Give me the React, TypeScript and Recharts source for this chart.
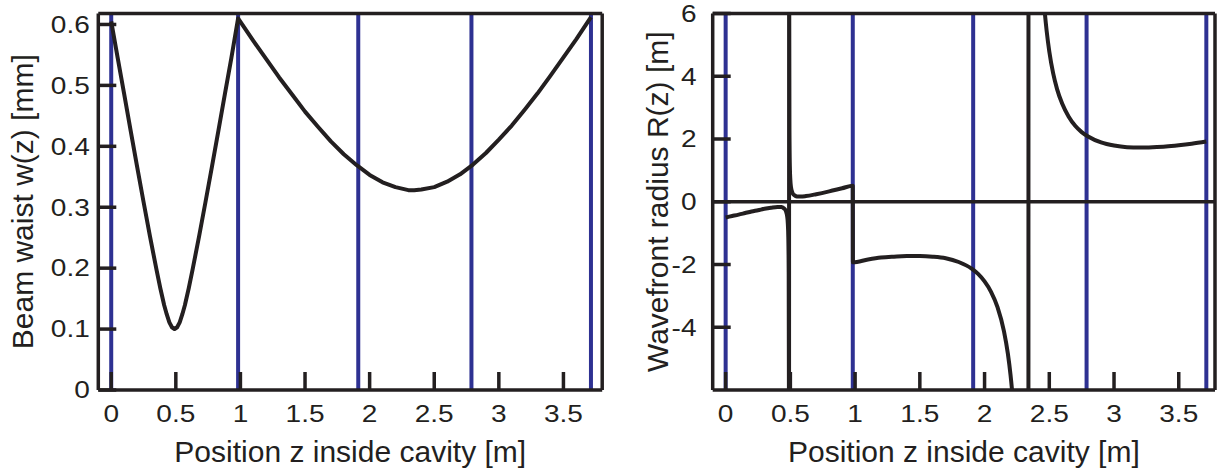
import React from 'react';
import { LineChart, Line, XAxis, YAxis, ReferenceLine, Label } from 'recharts';

const INK = '#231F20';
const BLUE = '#2E3192';
const FONT = '"Liberation Sans", Arial, Helvetica, sans-serif';

// Beam waist w(z) [mm] along the cavity
const waistZ = [
  0, 0.05, 0.1, 0.15, 0.2, 0.25, 0.3, 0.35, 0.38, 0.41, 0.43, 0.45, 0.47, 0.49,
  0.51, 0.53, 0.55, 0.57, 0.6, 0.63, 0.68, 0.73, 0.78, 0.83, 0.88, 0.93, 0.982,
  1.1, 1.2, 1.3, 1.4, 1.5, 1.6, 1.7, 1.8, 1.9, 2.0, 2.1, 2.2, 2.3, 2.345, 2.4,
  2.5, 2.6, 2.7, 2.8, 2.9, 3.0, 3.1, 3.2, 3.3, 3.4, 3.5, 3.6, 3.713,
];
const waistW = [
  0.605, 0.545, 0.486, 0.426, 0.367, 0.309, 0.252, 0.198, 0.167, 0.139, 0.124, 0.111, 0.103, 0.1,
  0.103, 0.111, 0.124, 0.139, 0.167, 0.198, 0.252, 0.309, 0.367, 0.426, 0.486, 0.545, 0.61,
  0.573, 0.543, 0.513, 0.485, 0.457, 0.432, 0.408, 0.387, 0.369, 0.353, 0.341, 0.333, 0.328, 0.328, 0.329,
  0.333, 0.342, 0.354, 0.37, 0.389, 0.411, 0.434, 0.46, 0.487, 0.516, 0.546, 0.576, 0.612,
];

// Wavefront radius R(z) [m] along the cavity
const radiusZ = [
  0, 0.05, 0.1, 0.15, 0.2, 0.25, 0.3, 0.35, 0.4, 0.43, 0.45, 0.46, 0.47, 0.475, 0.48, 0.484, 0.487, 0.489, 0.4897,
  0.4903, 0.491, 0.493, 0.496, 0.5, 0.505, 0.51, 0.52, 0.53, 0.55, 0.58, 0.62, 0.7, 0.8, 0.9, 0.982,
  0.983, 1.1, 1.2, 1.3, 1.4, 1.5, 1.6, 1.7, 1.8, 1.9, 1.95, 2.0, 2.05, 2.1, 2.15, 2.18, 2.2, 2.22, 2.25, 2.3, 2.335,
  2.343, 2.37, 2.4, 2.43, 2.45, 2.46, 2.48, 2.5, 2.53, 2.56, 2.6, 2.65, 2.7, 2.75, 2.8, 2.9, 3.0, 3.1, 3.2, 3.3, 3.4, 3.5, 3.6, 3.713,
];
const radiusR = [
  -0.5, -0.455, -0.41, -0.36, -0.31, -0.27, -0.225, -0.19, -0.165, -0.17, -0.21, -0.25, -0.36, -0.46, -0.68, -1.13, -2.24, -6.7, -22,
  22, 6.7, 2.24, 1.13, 0.68, 0.46, 0.36, 0.25, 0.21, 0.17, 0.165, 0.18, 0.24, 0.33, 0.43, 0.51,
  -1.93, -1.84, -1.78, -1.75, -1.73, -1.73, -1.75, -1.8, -1.92, -2.13, -2.3, -2.54, -2.87, -3.36, -4.13, -4.84, -5.5, -6.38, -8.46, -19.1, -186,
  186, 24, 12.3, 8.28, 6.82, 6.28, 5.43, 4.79, 4.09, 3.59, 3.12, 2.71, 2.42, 2.22, 2.08, 1.89, 1.79, 1.74, 1.73, 1.74, 1.76, 1.8, 1.85, 1.92,
];

// Optical element positions [m]
const mirrorZ = [0, 0.982, 1.912, 2.788, 3.713];

const xTicks = [0, 0.5, 1, 1.5, 2, 2.5, 3, 3.5];
const waistTicks = [0, 0.1, 0.2, 0.3, 0.4, 0.5, 0.6];
const radiusTicks = [-4, -2, 0, 2, 4, 6];

const xLabel = 'Position z inside cavity [m]';
const waistLabel = 'Beam waist w(z) [mm]';
const radiusLabel = 'Wavefront radius R(z) [m]';

const waistData = waistZ.map((z, i) => ({ z, w: waistW[i] }));
const radiusData = radiusZ.map((z, i) => ({ z, r: radiusR[i] }));

// ---- layout (pixels) ----
const W = 1217;
const H = 470;
const PLOT_TOP = 13.5;
const PLOT_BOTTOM = 390;
const PLOT_H = PLOT_BOTTOM - PLOT_TOP;
// left panel frame
const L_LEFT = 98.3;
const L_RIGHT = 602.2;
// right panel frame
const R_LEFT = 712.7;
const R_RIGHT = 1215;

// panel ranges (data units)
const wX: [number, number] = [-0.1, 3.8];
const wY: [number, number] = [0, 0.618];
const rX: [number, number] = [-0.1, 3.78];
const rY: [number, number] = [-6, 6];

// both panels share one plot area; each x axis domain is widened so its panel lands in place
const wPx = (L_RIGHT - L_LEFT) / (wX[1] - wX[0]);
const rPx = (R_RIGHT - R_LEFT) / (rX[1] - rX[0]);
const wXDomain: [number, number] = [wX[0], wX[0] + (R_RIGHT - L_LEFT) / wPx];
const rXDomain: [number, number] = [rX[0] - (R_LEFT - L_LEFT) / rPx, rX[1]];

const TICK_LEN = 18;
const TICK_FS = 23;
const TICK_SX = 1.22;
const STROKE = 3.5;

const XTickText = (props: any) => {
  const { x, payload } = props;
  return (
    <text
      transform={`translate(${x},421.7) scale(${TICK_SX},1)`}
      textAnchor="middle"
      fontSize={TICK_FS}
      fontFamily={FONT}
      fill={INK}
    >
      {String(payload.value)}
    </text>
  );
};

const makeYTickText = (anchorX: number) => (props: any) => {
  const { y, payload } = props;
  return (
    <text
      transform={`translate(${anchorX},${y + 8.3}) scale(${TICK_SX},1)`}
      textAnchor="end"
      fontSize={TICK_FS}
      fontFamily={FONT}
      fill={INK}
    >
      {String(payload.value)}
    </text>
  );
};
const WYTick = makeYTickText(L_LEFT - 8.5);
const RYTick = makeYTickText(696.5);

function seg(
  key: string,
  xa: string,
  ya: string,
  p1: [number, number],
  p2: [number, number],
  color = INK,
  width = STROKE
) {
  return (
    <ReferenceLine
      key={key}
      xAxisId={xa}
      yAxisId={ya}
      segment={[{ x: p1[0], y: p1[1] }, { x: p2[0], y: p2[1] }]}
      stroke={color}
      strokeWidth={width}
      ifOverflow="visible"
    />
  );
}

function panelDecor(
  id: string,
  xr: [number, number],
  yr: [number, number],
  yTicks: number[],
  pxPerX: number,
  zeroLine: boolean
) {
  const tickLenX = TICK_LEN / pxPerX;
  const tickLenY = (TICK_LEN * (yr[1] - yr[0])) / PLOT_H;
  const out: any[] = [];
  mirrorZ.forEach((m) => out.push(seg(`${id}m${m}`, id, id, [m, yr[0]], [m, yr[1]], BLUE, 4)));
  if (zeroLine) out.push(seg(`${id}zero`, id, id, [xr[0], 0], [xr[1], 0]));
  xTicks.forEach((v) => out.push(seg(`${id}xt${v}`, id, id, [v, yr[0]], [v, yr[0] + tickLenY])));
  yTicks.forEach((v) => out.push(seg(`${id}yt${v}`, id, id, [xr[0], v], [xr[0] + tickLenX, v])));
  out.push(seg(`${id}bl`, id, id, [xr[0], yr[0]], [xr[0], yr[1]]));
  out.push(seg(`${id}br`, id, id, [xr[1], yr[0]], [xr[1], yr[1]]));
  out.push(seg(`${id}bt`, id, id, [xr[0], yr[1]], [xr[1], yr[1]]));
  out.push(seg(`${id}bb`, id, id, [xr[0], yr[0]], [xr[1], yr[0]]));
  return out;
}

const xTitle = (cx: number) => () => (
  <text x={cx} y={461.7} textAnchor="middle" fontSize={30} fontFamily={FONT} fill={INK}>
    {xLabel}
  </text>
);

const yTitle = (x: number, text: string) => () => {
  const cy = (PLOT_TOP + PLOT_BOTTOM) / 2;
  return (
    <text
      x={x}
      y={cy}
      transform={`rotate(-90 ${x} ${cy})`}
      textAnchor="middle"
      fontSize={30}
      fontFamily={FONT}
      fill={INK}
    >
      {text}
    </text>
  );
};

export default function App() {
  return (
    <div style={{ position: 'absolute', left: 0, top: 0, width: W, height: H, background: '#fff' }}>
      <LineChart width={W} height={H} margin={{ top: PLOT_TOP, right: 0, bottom: 0, left: 0 }}>
        <XAxis
          xAxisId="w"
          dataKey="z"
          type="number"
          domain={wXDomain}
          ticks={xTicks}
          interval={0}
          height={H - PLOT_BOTTOM - 1}
          tickSize={0}
          tickMargin={0}
          tickLine={false}
          axisLine={false}
          tick={XTickText}
          allowDataOverflow
        >
          <Label content={xTitle((L_LEFT + L_RIGHT) / 2)} />
        </XAxis>
        <XAxis
          xAxisId="r"
          dataKey="z"
          type="number"
          domain={rXDomain}
          ticks={xTicks}
          interval={0}
          height={1}
          tickSize={0}
          tickMargin={0}
          tickLine={false}
          axisLine={false}
          tick={XTickText}
          allowDataOverflow
        >
          <Label content={xTitle((R_LEFT + R_RIGHT) / 2)} />
        </XAxis>
        <YAxis
          yAxisId="w"
          type="number"
          domain={wY}
          ticks={waistTicks}
          interval={0}
          width={L_LEFT}
          tickSize={0}
          tickMargin={0}
          tickLine={false}
          axisLine={false}
          tick={WYTick}
          allowDataOverflow
        >
          <Label content={yTitle(33.3, waistLabel)} />
        </YAxis>
        <YAxis
          yAxisId="r"
          orientation="right"
          type="number"
          domain={rY}
          ticks={radiusTicks}
          interval={0}
          width={W - R_RIGHT}
          tickSize={0}
          tickMargin={0}
          tickLine={false}
          axisLine={false}
          tick={RYTick}
          allowDataOverflow
        >
          <Label content={yTitle(668, radiusLabel)} />
        </YAxis>
        {panelDecor('w', wX, wY, waistTicks, wPx, false)}
        {panelDecor('r', rX, rY, radiusTicks, rPx, true)}
        <Line
          xAxisId="w"
          yAxisId="w"
          data={waistData}
          type="linear"
          dataKey="w"
          stroke={INK}
          strokeWidth={4}
          dot={false}
          activeDot={false}
          isAnimationActive={false}
          strokeLinejoin="round"
        />
        <Line
          xAxisId="r"
          yAxisId="r"
          data={radiusData}
          type="monotone"
          dataKey="r"
          stroke={INK}
          strokeWidth={4}
          dot={false}
          activeDot={false}
          isAnimationActive={false}
          strokeLinejoin="round"
        />
      </LineChart>
    </div>
  );
}
